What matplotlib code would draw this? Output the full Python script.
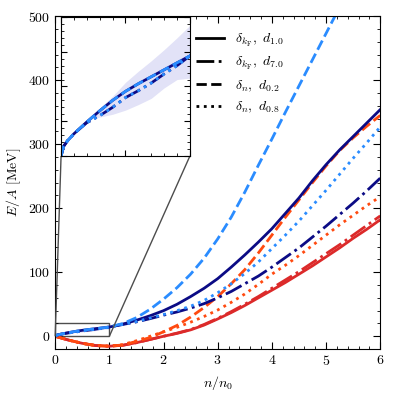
import matplotlib
matplotlib.use("Agg")
import matplotlib.pyplot as plt
from matplotlib.ticker import MultipleLocator, NullFormatter
from mpl_toolkits.axes_grid1.inset_locator import mark_inset

plt.rcParams['font.family'] = 'serif'
plt.rcParams['font.serif'] = ['cmr10']
plt.rcParams['mathtext.fontset'] = 'cm'
plt.rcParams['axes.formatter.use_mathtext'] = True
plt.rcParams['font.size'] = 10

# neutron matter (blue family)
n_pnm = [0, 0.02, 0.05, 0.1, 0.2, 0.3, 0.4, 0.5, 0.6, 0.7, 0.8, 0.9, 1.0,
         1.25, 1.5, 1.75, 2.0, 2.25, 2.5, 2.75, 3.0, 3.25, 3.5, 3.75, 4.0,
         4.25, 4.5, 4.75, 5.0, 5.25, 5.5, 5.75, 6.0]
pnm_kf_d10 = [0, 1.4, 2.2, 3.2, 4.9, 6.5, 8.0, 9.3, 10.4, 11.4, 12.4, 13.4, 14.4,
              19, 25, 32, 40, 50, 62, 75, 90, 108, 127, 147, 168,
              192, 216, 243, 268, 291, 312, 333, 354]
pnm_kf_d70 = [0, 1.4, 2.2, 3.2, 4.8, 5.8, 7.0, 8.4, 9.4, 10.5, 11.8, 13.0, 14.4,
              18.5, 22.5, 27.5, 33, 38, 44, 51, 60, 70, 82, 94, 108,
              123, 138, 155, 172, 190, 208, 227, 247]
pnm_n_d02 = [0, 1.4, 2.2, 3.2, 4.9, 6.5, 8.0, 9.3, 10.4, 11.4, 12.4, 13.4, 14.4,
             20, 29, 42, 58, 76, 97, 122, 152, 186, 225, 267, 308,
             350, 391, 432, 473, 514, 555, 596, 637]
pnm_n_d08 = [0, 1.4, 2.2, 3.2, 4.8, 5.8, 7.0, 8.4, 9.4, 10.5, 11.8, 13.0, 14.4,
             18.5, 23, 28.5, 34, 40, 47, 56, 68, 82, 98, 116, 137,
             158, 180, 204, 228, 253, 278, 302, 327]

# symmetric matter (red family)
n_snm = [0, 0.25, 0.5, 0.75, 1.0, 1.25, 1.5, 1.75, 2.0, 2.25, 2.5, 2.75, 3.0,
         3.25, 3.5, 3.75, 4.0, 4.25, 4.5, 4.75, 5.0, 5.25, 5.5, 5.75, 6.0]
snm_kf_d10 = [0, -6, -11, -14.5, -15.5, -14, -10, -5, 0, 4.5, 10, 17.5, 27,
              37, 48, 60, 72, 84, 97, 110, 124, 138, 153, 167, 182]
snm_kf_d70 = [0, -6, -11, -14.5, -15.5, -14, -10, -5, 0, 5, 10.5, 18.5, 28,
              38.5, 50, 62, 75, 88, 101, 115, 129, 143, 158, 173, 188]
snm_n_d02 = [0, -6, -11, -14.5, -15.5, -13.5, -8, -2, 7, 17, 30, 45, 62,
             82, 104, 130, 158, 186, 213, 240, 266, 290, 310, 328, 345]
snm_n_d08 = [0, -6, -11, -14.5, -15.5, -13, -7, 0, 7, 14, 22, 31, 41,
             53, 66, 81, 97, 111, 126, 142, 158, 174, 189, 204, 218]

# uncertainty band (neutron matter, low density)
n_band = [0.25, 0.3, 0.4, 0.5, 0.6, 0.7, 0.8, 0.9, 1.0]
band_lo = [5.4, 5.6, 6.0, 6.6, 7.4, 8.3, 9.8, 11.0, 11.2]
band_hi = [6.0, 6.9, 8.6, 10.6, 12.2, 13.7, 15.3, 17.0, 18.8]

labels = [r'$\delta_{k_\mathrm{F}},\ d_{1.0}$', r'$\delta_{k_\mathrm{F}},\ d_{7.0}$',
          r'$\delta_{n},\ d_{0.2}$', r'$\delta_{n},\ d_{0.8}$']

navy = '#0b0b85'
dblue = '#2a8cff'
red = '#dc2a2a'
orange = '#ff4a10'
lw = 2.0


def draw(ax):
    ax.fill_between(n_band, band_lo, band_hi, color='#e2e2f7', lw=0, zorder=1)
    ax.plot(n_snm, snm_kf_d10, color=red, ls='-', lw=lw)
    ax.plot(n_snm, snm_kf_d70, color=red, ls='-.', lw=lw)
    ax.plot(n_snm, snm_n_d02, color=orange, ls='--', lw=lw)
    ax.plot(n_snm, snm_n_d08, color=orange, ls=':', lw=lw)
    ax.plot(n_pnm, pnm_kf_d10, color=navy, ls='-', lw=lw)
    ax.plot(n_pnm, pnm_kf_d70, color=navy, ls='-.', lw=lw)
    ax.plot(n_pnm, pnm_n_d02, color=dblue, ls='--', lw=lw)
    ax.plot(n_pnm, pnm_n_d08, color=dblue, ls=':', lw=lw)


fig = plt.figure(figsize=(3.94, 3.94), dpi=100)
ax = fig.add_axes([0.14, 0.114, 0.825, 0.845])
draw(ax)
ax.set_xlim(0, 6)
ax.set_ylim(-20, 500)
ax.xaxis.set_major_locator(MultipleLocator(1))
ax.xaxis.set_minor_locator(MultipleLocator(0.2))
ax.yaxis.set_major_locator(MultipleLocator(100))
ax.yaxis.set_minor_locator(MultipleLocator(20))
ax.tick_params(which='both', direction='in', top=True, right=True)
ax.tick_params(which='major', length=5)
ax.tick_params(which='minor', length=2.5)
ax.set_xlabel(r'$n/n_0$')
ax.set_ylabel(r'$E/A$ [MeV]')

for ls, lab in zip(['-', '-.', '--', ':'], labels):
    ax.plot([], [], color='black', ls=ls, lw=lw, label=lab)
ax.legend(loc='upper left', bbox_to_anchor=(0.395, 0.99), frameon=False,
          handlelength=2.0, labelspacing=0.45, fontsize=10)

axins = fig.add_axes([0.155, 0.604, 0.327, 0.353])
draw(axins)
axins.set_xlim(0, 1)
axins.set_ylim(0, 20)
axins.xaxis.set_major_locator(MultipleLocator(0.5))
axins.xaxis.set_minor_locator(MultipleLocator(0.1))
axins.yaxis.set_major_locator(MultipleLocator(5))
axins.yaxis.set_minor_locator(MultipleLocator(1))
axins.xaxis.set_major_formatter(NullFormatter())
axins.yaxis.set_major_formatter(NullFormatter())
axins.tick_params(which='both', direction='in', top=True, right=True)
axins.tick_params(which='major', length=4)
axins.tick_params(which='minor', length=2)

mark_inset(ax, axins, loc1=3, loc2=4, fc='none', ec='0.3', lw=1)

fig.savefig('out.png', dpi=100)
